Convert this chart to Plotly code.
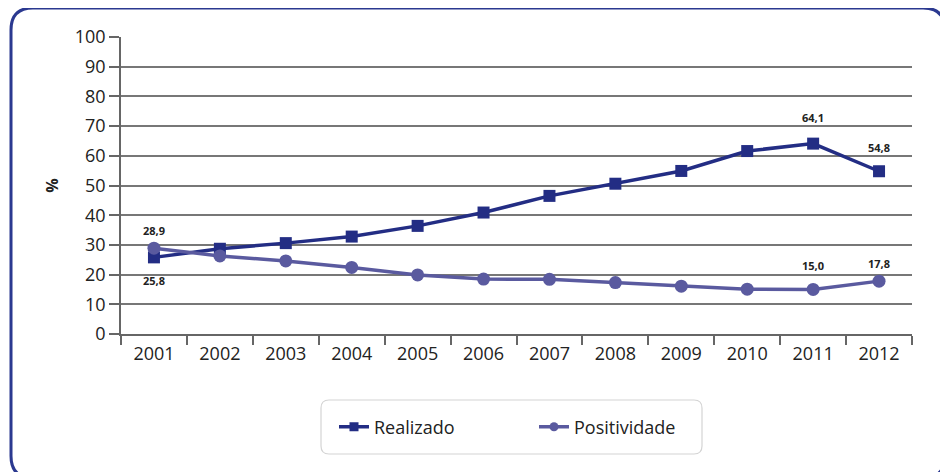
import plotly.graph_objects as go

years = ["2001", "2002", "2003", "2004", "2005", "2006", "2007", "2008", "2009", "2010", "2011", "2012"]
realizado = [25.8, 28.7, 30.6, 32.8, 36.4, 40.9, 46.5, 50.6, 54.9, 61.6, 64.1, 54.8]
positividade = [28.9, 26.3, 24.6, 22.4, 19.9, 18.5, 18.4, 17.3, 16.1, 15.1, 15.0, 17.8]
y_ticks = [0, 10, 20, 30, 40, 50, 60, 70, 80, 90, 100]

# labelled points: (index, pixel shift)
labels_real = [(0, -23), (10, 26), (11, 24)]
labels_pos = [(0, 18), (10, 24), (11, 18)]

# page body has an 8px margin: work in page pixels, then shift
OFF = 8
W, H = 948 - OFF, 472 - OFF
L, R, T, B = 121 - OFF, 36, 37 - OFF, 138
pw, ph = W - L - R, H - T - B

def px(x):
    return (x - OFF - L) / pw

def py(y):
    return (H - B - (y - OFF)) / ph

C_REAL = "#232d84"
C_POS = "#5a5a9f"
FONT = "Open Sans"

fig = go.Figure()
fig.add_trace(go.Scatter(
    x=years, y=realizado, name="Realizado", mode="lines+markers", showlegend=False,
    line=dict(color=C_REAL, width=3.5),
    marker=dict(symbol="square", size=12, color=C_REAL),
))
fig.add_trace(go.Scatter(
    x=years, y=positividade, name="Positividade", mode="lines+markers", showlegend=False,
    line=dict(color=C_POS, width=3.5),
    marker=dict(symbol="circle", size=13, color=C_POS),
))
# legend entries (smaller markers as in the original key)
fig.add_trace(go.Scatter(
    x=[None], y=[None], name="Realizado", mode="lines+markers",
    line=dict(color=C_REAL, width=3.5),
    marker=dict(symbol="square", size=9, color=C_REAL),
))
fig.add_trace(go.Scatter(
    x=[None], y=[None], name="Positividade", mode="lines+markers",
    line=dict(color=C_POS, width=3.5),
    marker=dict(symbol="circle", size=9, color=C_POS),
))

def fmt(v):
    return f"{v:.1f}".replace(".", ",")

annotations = []
for series, lab in ((realizado, labels_real), (positividade, labels_pos)):
    for i, shift in lab:
        annotations.append(dict(
            x=i, y=series[i], xref="x", yref="y",
            text=f"<b>{fmt(series[i])}</b>", showarrow=False,
            yshift=shift,
            font=dict(family=FONT, size=11, color="#222222"),
        ))

def rrect(x0, y0, x1, y1, r):
    rx = r / pw
    ry = r / ph
    a, b, c, d = px(x0), py(y0), px(x1), py(y1)
    return (f"M {a+rx},{b} L {c-rx},{b} Q {c},{b} {c},{b-ry} "
            f"L {c},{d+ry} Q {c},{d} {c-rx},{d} L {a+rx},{d} "
            f"Q {a},{d} {a},{d+ry} L {a},{b-ry} Q {a},{b} {a+rx},{b} Z")

shapes = [
    dict(type="path", xref="paper", yref="paper",
         path=rrect(11, 8, 945, 478, 22),
         line=dict(color="#2b3990", width=3), layer="below"),
    dict(type="path", xref="paper", yref="paper",
         path=rrect(321, 400, 702, 454, 8),
         line=dict(color="#d4d4d4", width=1.2), layer="below"),
]

fig.update_layout(
    width=W, height=H,
    margin=dict(l=L, r=R, t=T, b=B),
    paper_bgcolor="white", plot_bgcolor="white",
    font=dict(family=FONT, color="#222222", size=17),
    showlegend=True,
    legend=dict(
        orientation="h", x=px(334), y=py(427), xanchor="left", yanchor="middle",
        font=dict(family=FONT, size=18, color="#222222"),
        entrywidth=155, entrywidthmode="pixels",
        bgcolor="rgba(0,0,0,0)", borderwidth=0,
    ),
    xaxis=dict(
        type="category", range=[-0.5, 11.5],
        showgrid=False, showline=True, linecolor="#666666", linewidth=1.5,
        ticks="outside", tickson="boundaries", ticklen=9, tickcolor="#666666", tickwidth=1.5,
        tickfont=dict(family=FONT, size=18, color="#222222"),
        ticklabelstandoff=3,
        zeroline=False,
    ),
    yaxis=dict(
        range=[0, 100], tickvals=y_ticks,
        showgrid=True, gridcolor="#777777", gridwidth=1.5,
        showline=True, linecolor="#666666", linewidth=1.5,
        ticks="outside", ticklen=10, tickcolor="#666666", tickwidth=1.5,
        tickfont=dict(family=FONT, size=18, color="#222222"),
        title=dict(text="<b>%</b>", font=dict(family=FONT, size=16, color="#222222"), standoff=12),
        zeroline=False,
    ),
    annotations=annotations,
    shapes=shapes,
)

fig.write_html("out.html")
